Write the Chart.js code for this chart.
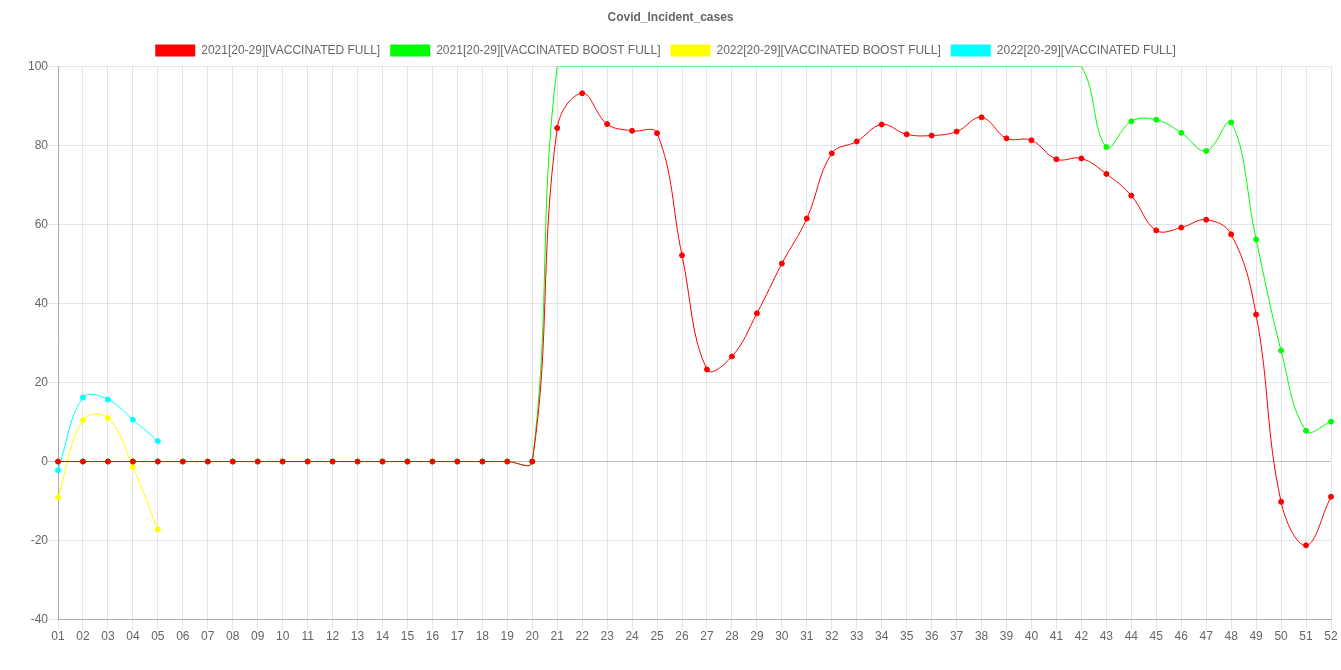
<!DOCTYPE html>
<html>
<head>
<meta charset="utf-8">
<script src="https://cdn.jsdelivr.net/npm/chart.js@4/dist/chart.umd.min.js"></script>
<style>
html,body{margin:0;padding:0;background:#fff;}
#wrap{width:1341px;height:670px;position:relative;}
</style>
</head>
<body>
<div id="wrap"><canvas id="c"></canvas></div>
<script>
const weeks = ['01','02','03','04','05','06','07','08','09','10','11','12','13','14','15','16','17','18','19','20','21','22','23','24','25','26','27','28','29','30','31','32','33','34','35','36','37','38','39','40','41','42','43','44','45','46','47','48','49','50','51','52'];

const full2021 = [0,0,0,0,0,0,0,0,0,0,0,0,0,0,0,0,0,0,0,0,84.4,93.2,85.4,83.7,83.1,52.2,23.3,26.6,37.5,50.1,61.5,78.0,81.0,85.3,82.8,82.5,83.5,87.1,81.8,81.3,76.5,76.7,72.8,67.3,58.5,59.2,61.2,57.5,37.2,-10.2,-21.2,-8.9];

const boost2021 = [0,0,0,0,0,0,0,0,0,0,0,0,0,0,0,0,0,0,0,0,100,100,100,100,100,100,100,100,100,100,100,100,100,100,100,100,100,100,100,100,100,100,79.6,86.1,86.5,83.2,78.6,85.8,56.2,28.1,7.8,10.1];

const boost2022 = [-9.1,10.5,11.0,-1.4,-17.2];

const full2022 = [-2.2,16.2,15.7,10.6,5.2];

const yTicks = [-40,-20,0,20,40,60,80,100];

const seriesNames = ['2021[20-29][VACCINATED FULL]','2021[20-29][VACCINATED BOOST FULL]','2022[20-29][VACCINATED BOOST FULL]','2022[20-29][VACCINATED FULL]'];
const seriesColors = ['#ff0000','#00ff00','#ffff00','#00ffff'];
const seriesData = [full2021, boost2021, boost2022, full2022];

Chart.defaults.font.family = "'Liberation Sans', Arial, Helvetica, sans-serif";
Chart.defaults.font.size = 12;
Chart.defaults.color = '#666';

const datasets = seriesData.map((d, i) => ({
  label: seriesNames[i],
  data: d,
  borderColor: seriesColors[i],
  backgroundColor: seriesColors[i],
  pointBackgroundColor: seriesColors[i],
  pointBorderColor: seriesColors[i],
  borderWidth: 1,
  pointBorderWidth: 1,
  pointRadius: ctx => (ctx.raw >= 100 ? 0 : 2.5),
  pointHoverRadius: 3,
  tension: 0.4,
  fill: false
}));

const legendShift = {
  id: 'legendShift',
  beforeDraw(chart) {
    const lg = chart.legend;
    if (lg && !lg._shifted) {
      lg.left -= 5; lg.right -= 5;
      if (lg.legendHitBoxes) lg.legendHitBoxes.forEach(b => { b.left -= 5; });
      lg._shifted = true;
    }
  }
};

new Chart(document.getElementById('c'), {
  type: 'line',
  data: { labels: weeks, datasets },
  plugins: [legendShift],
  options: {
    responsive: true,
    maintainAspectRatio: false,
    animation: false,
    layout: { padding: { left: 10, right: 10, bottom: 0, top: 0 } },
    plugins: {
      title: {
        display: true,
        text: 'Covid_Incident_cases',
        color: '#666',
        font: { size: 12, weight: 'bold' },
        padding: { top: 10, bottom: 10 }
      },
      legend: {
        display: true,
        labels: {
          boxWidth: 40,
          boxHeight: 12,
          padding: 10,
          color: '#666',
          generateLabels: chart => chart.data.datasets.map((ds, i) => ({
            text: ds.label,
            fillStyle: ds.backgroundColor,
            strokeStyle: ds.backgroundColor,
            lineWidth: 0,
            hidden: false,
            datasetIndex: i,
            fontColor: '#666'
          }))
        }
      },
      tooltip: { enabled: false }
    },
    scales: {
      x: {
        offset: false,
        afterFit: axis => { axis.height += 26; },
        grid: { color: 'rgba(0,0,0,0.1)', tickLength: 10 },
        border: { color: 'rgba(0,0,0,0.25)' },
        ticks: { autoSkip: false, maxRotation: 0, padding: 0 }
      },
      y: {
        min: yTicks[0],
        max: yTicks[yTicks.length - 1],
        afterFit: axis => { axis.width = 48; },
        afterBuildTicks: axis => { axis.ticks = yTicks.map(v => ({ value: v })); },
        grid: {
          color: ctx => (ctx.tick && ctx.tick.value === 0 ? 'rgba(0,0,0,0.25)' : 'rgba(0,0,0,0.1)'),
          tickLength: 10
        },
        border: { color: 'rgba(0,0,0,0.25)' },
        ticks: { padding: 0 }
      }
    }
  }
});
</script>
</body>
</html>
